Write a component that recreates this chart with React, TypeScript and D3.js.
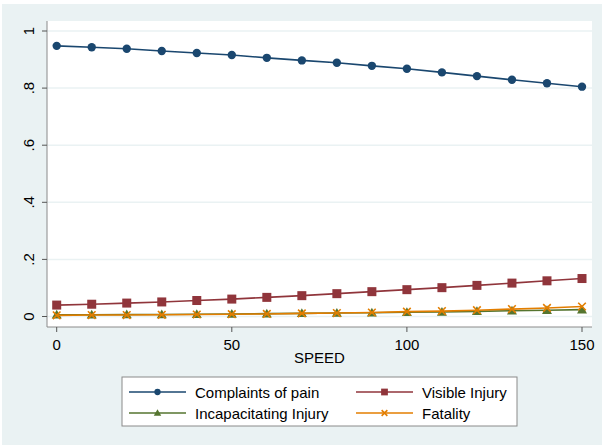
import React from "react";
import * as d3 from "d3";

const speed = [0, 10, 20, 30, 40, 50, 60, 70, 80, 90, 100, 110, 120, 130, 140, 150];
const complaints = [0.948, 0.943, 0.938, 0.93, 0.923, 0.916, 0.906, 0.897, 0.889, 0.878, 0.868, 0.855, 0.842, 0.829, 0.817, 0.805];
const visible = [0.04, 0.043, 0.047, 0.051, 0.056, 0.061, 0.067, 0.073, 0.08, 0.087, 0.094, 0.101, 0.109, 0.117, 0.125, 0.133];
const incapacitating = [0.006, 0.006, 0.007, 0.007, 0.008, 0.009, 0.01, 0.011, 0.012, 0.013, 0.015, 0.016, 0.018, 0.02, 0.022, 0.024];
const fatality = [0.004, 0.005, 0.005, 0.006, 0.007, 0.008, 0.009, 0.011, 0.012, 0.014, 0.017, 0.019, 0.022, 0.026, 0.03, 0.035];
const xTicks = [0, 50, 100, 150];
const yTicks = [0, 0.2, 0.4, 0.6, 0.8, 1];
const yTickLabels = ["0", ".2", ".4", ".6", ".8", "1"];

const series = [
  { name: "Complaints of pain", values: complaints, color: "#1a476f", marker: "circle" },
  { name: "Visible Injury", values: visible, color: "#90353b", marker: "square" },
  { name: "Incapacitating Injury", values: incapacitating, color: "#55752f", marker: "triangle" },
  { name: "Fatality", values: fatality, color: "#e37e00", marker: "x" },
];

const FONT = "'Liberation Sans', Arial, sans-serif";

function Marker({ type, x, y, color, k = 1 }: { type: string; x: number; y: number; color: string; k?: number }) {
  if (type === "circle") return <circle cx={x} cy={y} r={4.2 * k} fill={color} />;
  if (type === "square") return <rect x={x - 4.5 * k} y={y - 4.5 * k} width={9 * k} height={9 * k} fill={color} />;
  if (type === "triangle") {
    const s = 5 * k;
    return <path d={`M${x},${y - s} L${x + s},${y + s * 0.75} L${x - s},${y + s * 0.75} Z`} fill={color} />;
  }
  const s = 3.8 * k;
  return (
    <path
      d={`M${x - s},${y - s} L${x + s},${y + s} M${x - s},${y + s} L${x + s},${y - s}`}
      stroke={color}
      strokeWidth={1.6}
      fill="none"
    />
  );
}

export default function App() {
  const W = 602, H = 447;
  const plot = { l: 47, r: 592, t: 21, b: 327 };
  const x = d3.scaleLinear().domain([0, 150]).range([56.7, 582]);
  const y = d3.scaleLinear().domain([0, 1]).range([316.5, 31]);
  const line = d3.line<number>().x((_, i) => x(speed[i])).y((d) => y(d));

  const legendItems = [
    { s: series[0], lx: 129, ty: 392 },
    { s: series[1], lx: 356, ty: 392 },
    { s: series[2], lx: 129, ty: 413 },
    { s: series[3], lx: 356, ty: 413 },
  ];

  return (
    <svg width={W} height={H} style={{ position: "absolute", left: 0, top: 0, display: "block" }} fontFamily={FONT}>
      <rect x={0} y={0} width={W} height={H} fill="#ffffff" />
      <rect x={2} y={4} width={W - 2} height={H - 6} fill="#eaf2f3" />
      <rect x={plot.l} y={plot.t} width={plot.r - plot.l} height={plot.b - plot.t} fill="#ffffff" />
      {yTicks.map((t) => (
        <line key={"g" + t} x1={plot.l} x2={plot.r} y1={y(t)} y2={y(t)} stroke="#eaf2f3" strokeWidth={1.5} />
      ))}
      {/* axes */}
      <line x1={plot.l} x2={plot.l} y1={plot.t} y2={plot.b} stroke="#8a8a8a" strokeWidth={1} />
      <line x1={plot.l} x2={plot.r} y1={plot.b} y2={plot.b} stroke="#8a8a8a" strokeWidth={1} />
      {yTicks.map((t, i) => (
        <g key={"y" + t}>
          <line x1={plot.l - 5} x2={plot.l} y1={y(t)} y2={y(t)} stroke="#555" strokeWidth={1} />
          <text
            transform={`translate(${33.5},${y(t)}) rotate(-90)`}
            textAnchor="middle"
            fontSize={15}
            fill="#000"
          >
            {yTickLabels[i]}
          </text>
        </g>
      ))}
      {xTicks.map((t) => (
        <g key={"x" + t}>
          <line x1={x(t)} x2={x(t)} y1={plot.b} y2={plot.b + 5} stroke="#555" strokeWidth={1} />
          <text x={x(t)} y={350} textAnchor="middle" fontSize={15} fill="#000">
            {t}
          </text>
        </g>
      ))}
      <text x={(plot.l + plot.r) / 2} y={363} textAnchor="middle" fontSize={15} fill="#000">
        SPEED
      </text>
      {/* series */}
      {series.map((s) => (
        <g key={s.name}>
          <path d={line(s.values) || ""} fill="none" stroke={s.color} strokeWidth={1.6} />
          {s.values.map((v, i) => (
            <Marker key={i} type={s.marker} x={x(speed[i])} y={y(v)} color={s.color} />
          ))}
        </g>
      ))}
      {/* legend */}
      <rect x={122} y={377} width={395} height={49} fill="#ffffff" stroke="#8a8a8a" strokeWidth={1} />
      {legendItems.map(({ s, lx, ty }) => (
        <g key={"lg" + s.name}>
          <line x1={lx} x2={lx + 57} y1={ty} y2={ty} stroke={s.color} strokeWidth={1.6} />
          <Marker type={s.marker} x={lx + 28.5} y={ty} color={s.color} k={0.75} />
          <text x={lx + 66} y={ty + 5.5} fontSize={15} fill="#000">
            {s.name}
          </text>
        </g>
      ))}
    </svg>
  );
}
